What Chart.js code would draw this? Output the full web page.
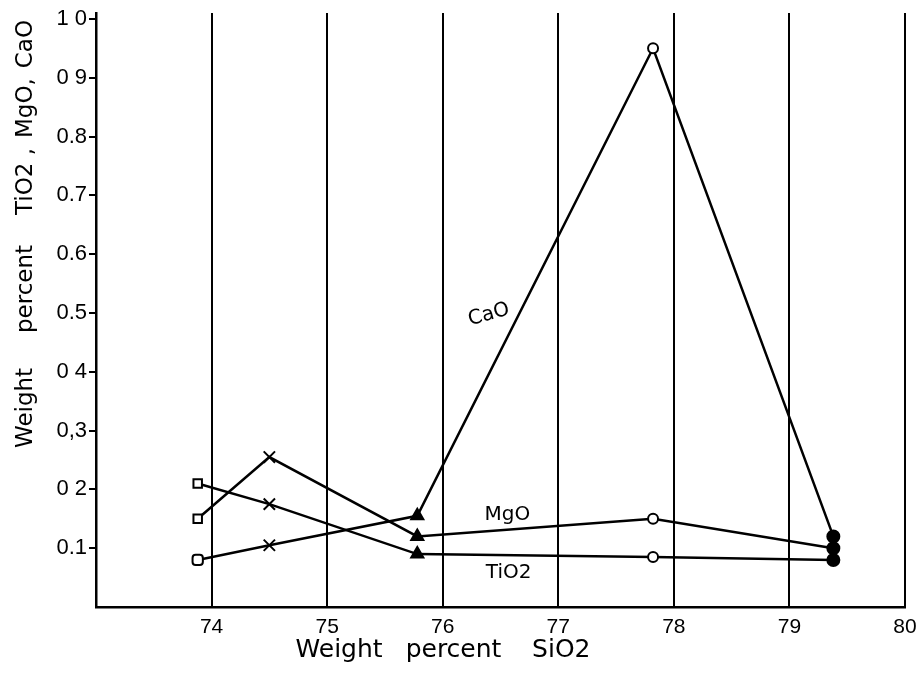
<!DOCTYPE html>
<html>
<head>
<meta charset="utf-8">
<script src="https://cdn.jsdelivr.net/npm/chart.js@4.4.1/dist/chart.umd.min.js"></script>
<style>
  html, body { margin: 0; padding: 0; background: #fff; }
  #wrap { width: 916px; height: 685px; }
</style>
</head>
<body>
<div id="wrap"><canvas id="myChart" width="916" height="685"></canvas></div>
<script>
// SiO2 values of the five samples (x axis)
var sio2 = [73.88, 74.5, 75.78, 77.82, 79.38];
var tio2 = [0.21, 0.175, 0.09, 0.085, 0.08];
var mgo = [0.15, 0.255, 0.12, 0.15, 0.10];
var cao = [0.08, 0.105, 0.155, 0.95, 0.12];

var xTickLabels = ['74', '75', '76', '77', '78', '79', '80'];
var yTickValues = [0.1, 0.2, 0.3, 0.4, 0.5, 0.6, 0.7, 0.8, 0.9, 1.0];
var yTickLabels = ['0.1', '0 2', '0,3', '0 4', '0.5', '0.6', '0.7', '0.8', '0 9', '1 0'];

// series names placed next to the lines: [text, x, y, angle]
var seriesLabels = [
    ['CaO', 76.4, 0.497, -15],
    ['MgO', 76.56, 0.156, 0],
    ['TiO2', 76.57, 0.058, 0]
];

// axis titles: words and relative size of the gap after each word
var xTitle = ['Weight', 'percent', 'SiO2'];
var xTitleGaps = [3, 4];
var yTitle = ['Weight', 'percent', 'TiO2 ,', 'MgO,', 'CaO'];
var yTitleGaps = [3.5, 3, 1, 1];

var FONT = '"DejaVu Sans", sans-serif';
var TICKFONT = '"Liberation Sans", Arial, sans-serif';

function pts(ys) {
    var out = [];
    for (var i = 0; i < sio2.length; i++) {
        out.push({x: sio2[i], y: ys[i]});
    }
    return out;
}

function makeSet(label, ys, firstStyle) {
    return {
        label: label,
        data: pts(ys),
        borderColor: '#000',
        borderWidth: 2.5,
        pointStyle: [firstStyle, 'crossRot', 'triangle', 'circle', 'circle'],
        pointBackgroundColor: ['#fff', '#fff', '#000', '#fff', '#000'],
        pointBorderColor: '#000',
        pointBorderWidth: 2,
        pointRadius: [6, 8, 7, 5, 6],
        tension: 0,
        fill: false
    };
}

// draw words spread out so the whole line is `width` long, centred at 0,0
function spreadText(ctx, words, gaps, width) {
    var total = 0, gsum = 0;
    for (var i = 0; i < words.length; i++) total += ctx.measureText(words[i]).width;
    for (var k = 0; k < gaps.length; k++) gsum += gaps[k];
    var unit = (width - total) / gsum;
    var x = -width / 2;
    ctx.textAlign = 'left';
    for (var j = 0; j < words.length; j++) {
        ctx.fillText(words[j], x, 0);
        x += ctx.measureText(words[j]).width + (j < gaps.length ? gaps[j] * unit : 0);
    }
}

var textPlugin = {
    id: 'textPlugin',
    afterDraw: function (chart) {
        var ctx = chart.ctx;
        var xs = chart.scales.x, ys = chart.scales.y;
        ctx.save();
        ctx.fillStyle = '#000';
        ctx.textAlign = 'center';
        ctx.textBaseline = 'middle';
        ctx.font = '20px ' + FONT;
        for (var i = 0; i < seriesLabels.length; i++) {
            var l = seriesLabels[i];
            ctx.save();
            ctx.translate(xs.getPixelForValue(l[1]), ys.getPixelForValue(l[2]));
            ctx.rotate(l[3] * Math.PI / 180);
            ctx.fillText(l[0], 0, 0);
            ctx.restore();
        }
        // axis titles
        ctx.font = '25px ' + FONT;
        ctx.save();
        ctx.translate(443, 650);
        spreadText(ctx, xTitle, xTitleGaps, 295);
        ctx.restore();
        ctx.font = '23px ' + FONT;
        ctx.save();
        ctx.translate(26, 234);
        ctx.rotate(-Math.PI / 2);
        spreadText(ctx, yTitle, yTitleGaps, 428);
        ctx.restore();
        ctx.restore();
    }
};

var ctx = document.getElementById('myChart');
new Chart(ctx, {
    type: 'line',
    data: {
        datasets: [
            makeSet('TiO2', tio2, 'rect'),
            makeSet('MgO', mgo, 'rect'),
            makeSet('CaO', cao, 'rectRounded')
        ]
    },
    plugins: [textPlugin],
    options: {
        responsive: false,
        animation: false,
        layout: { padding: { top: 13, right: 11, left: 0, bottom: 0 } },
        plugins: {
            legend: { display: false },
            tooltip: { enabled: false }
        },
        scales: {
            x: {
                type: 'linear',
                min: 73,
                max: 80,
                afterFit: function (scale) {
                    scale.height = 78;
                    scale.paddingLeft = 0;
                    scale.paddingRight = 0;
                },
                grid: {
                    color: function (c) {
                        return c.tick && c.tick.value === 73 ? 'rgba(0,0,0,0)' : '#000';
                    },
                    lineWidth: 2,
                    drawTicks: false
                },
                border: { color: '#000', width: 2.5 },
                ticks: {
                    color: '#000',
                    stepSize: 1,
                    padding: 8,
                    maxRotation: 0,
                    autoSkip: false,
                    font: { family: TICKFONT, size: 21 },
                    callback: function (value) {
                        var i = Math.round(value) - 74;
                        return i >= 0 ? xTickLabels[i] : '';
                    }
                }
            },
            y: {
                type: 'linear',
                min: 0,
                max: 1.01,
                afterBuildTicks: function (scale) {
                    scale.ticks = yTickValues.map(function (v) { return {value: v}; });
                },
                afterFit: function (scale) {
                    scale.width = 96;
                    scale.paddingTop = 0;
                    scale.paddingBottom = 0;
                },
                grid: {
                    drawOnChartArea: false,
                    drawTicks: true,
                    tickLength: 7,
                    tickColor: '#000',
                    lineWidth: 2
                },
                border: { color: '#000', width: 2.5 },
                ticks: {
                    color: '#000',
                    padding: 2,
                    autoSkip: false,
                    font: { family: TICKFONT, size: 22 },
                    callback: function (value, index) {
                        return yTickLabels[index];
                    }
                }
            }
        }
    }
});
</script>
</body>
</html>
